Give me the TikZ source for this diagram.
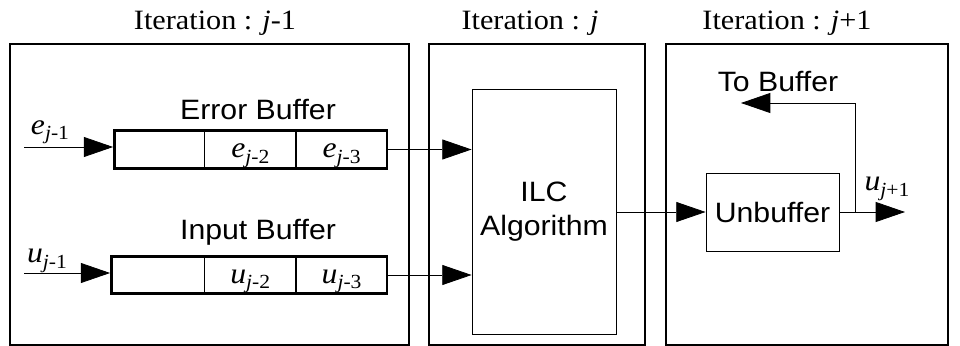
\documentclass[tikz,border=0pt]{standalone}
\usepackage{fontspec}
\setmainfont{Liberation Serif}[FakeStretch=1.08]
\newfontfamily\arialfont{Liberation Sans}[FakeStretch=1.08]
\usetikzlibrary{arrows.meta,positioning,fit}

% signal label with iteration subscript
\newcommand{\sig}[2]{\textit{#1}\raisebox{-0.4ex}{\fontsize{15}{15}\selectfont\textit{j}#2}}

\begin{document}
\begin{tikzpicture}[
  x=0.75pt, y=-0.75pt,
  frame/.style={draw, line width=0.9pt, inner sep=0},
  ttl/.style={font=\fontsize{21}{24}\selectfont, inner sep=0},
  buflbl/.style={font=\arialfont\fontsize{21}{24}\selectfont, inner sep=0, align=center},
  blk/.style={draw, line width=0.6pt, inner sep=0, font=\arialfont\fontsize{21}{26}\selectfont, align=center},
  cell/.style={draw, line width=0.6pt, inner sep=0, text height=12.5pt, text depth=0pt, font=\fontsize{22}{24}\selectfont},
  buf/.style={draw, line width=2.2pt, inner sep=0},
  sigl/.style={font=\fontsize{22}{24}\selectfont, inner sep=0},
  arr/.style={-{Triangle[length=22pt,width=15pt]}, line width=0.6pt}
]
\useasboundingbox (0,0) rectangle (960,346);

% iteration frames
\node[frame, minimum width=299.25pt, minimum height=225.75pt] (fra) at (209.5,194.5) {};
\node[frame, minimum width=162pt, minimum height=225.75pt] (frb) at (537,194.5) {};
\node[frame, minimum width=211.5pt, minimum height=225.75pt] (frc) at (807,194.5) {};
\node[ttl] (ta) at (215,23) {Iteration : \textit{j}-1};
\node[ttl] (tb) at (530,23) {Iteration : \textit{j}};
\node[ttl] (tc) at (787,23) {Iteration : \textit{j}+1};

% error buffer
\node[cell, minimum width=66.75pt, minimum height=27.75pt] (ec1) at (159.5,149.5) {};
\node[cell, minimum width=68.25pt, minimum height=27.75pt, right=0pt of ec1] (ec2) {\sig{e}{-2}};
\node[cell, minimum width=67.5pt, minimum height=27.75pt, right=0pt of ec2] (ec3) {\sig{e}{-3}};
\node[buf, fit=(ec1)(ec3)] (ebuf) {};
\node[buflbl] (elbl) at (258,110) {Error Buffer};

% input buffer
\node[cell, minimum width=69pt, minimum height=27pt] (ic1) at (158,275) {};
\node[cell, minimum width=68.25pt, minimum height=27pt, right=0pt of ic1] (ic2) {\sig{u}{-2}};
\node[cell, minimum width=67.5pt, minimum height=27pt, right=0pt of ic2] (ic3) {\sig{u}{-3}};
\node[buf, fit=(ic1)(ic3)] (ibuf) {};
\node[buflbl] (ilbl) at (258,232) {Input Buffer};

% blocks
\node[blk, minimum width=108pt, minimum height=183.75pt] (ilc) at (544,211.5) {ILC\\Algorithm};
\node[blk, minimum width=99.75pt, minimum height=58.5pt] (unbuf) at (772.5,212) {Unbuffer};

% inputs
\coordinate (ein) at (24,147);
\coordinate (uin) at (24,273);
\node[sigl] (elab) at (50,132) {\sig{e}{-1}};
\node[sigl] (ulab) at (47,261) {\sig{u}{-1}};
\draw[arr] (ein) -- (ein -| ebuf.west);
\draw[arr] (uin) -- (uin -| ibuf.west);

% to the algorithm
\draw[arr] (ebuf.east) -- (ebuf.east -| ilc.west);
\draw[arr] (ibuf.east) -- (ibuf.east -| ilc.west);
\draw[arr] (ilc.east |- unbuf.west) -- (unbuf.west);

% output and feedback
\coordinate (out) at (905,212);
\coordinate (br) at (855,212);
\coordinate (back) at (741,103);
\draw[arr] (unbuf.east) -- (out);
\draw[arr] (br) |- (back);
\node[buflbl] (tobuf) at (778,82) {To Buffer};
\node[sigl] (ulast) at (887,189) {\sig{u}{+1}};
\end{tikzpicture}
\end{document}
